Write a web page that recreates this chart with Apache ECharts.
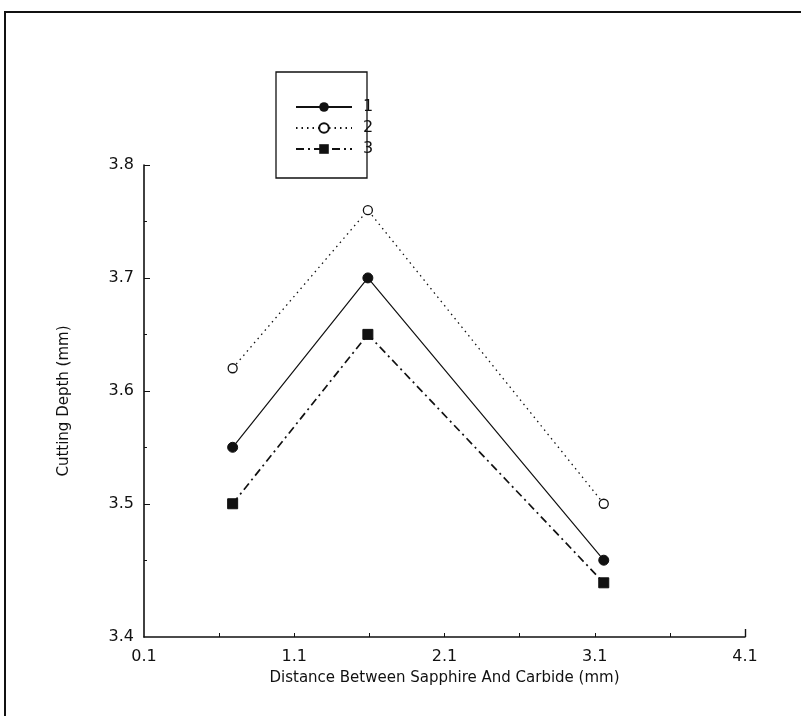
<!DOCTYPE html>
<html>
<head>
<meta charset="utf-8">
<script src="https://cdn.jsdelivr.net/npm/echarts@6/dist/echarts.min.js"></script>
<style>
  html, body { margin: 0; padding: 0; background: #fff; }
  #chart { width: 801px; height: 716px; }
</style>
</head>
<body>
<div id="chart"></div>
<script>
// Measured spacing between sapphire and carbide (mm)
const distances = [0.69, 1.59, 3.16];
// Cutting depth (mm) for each test set
const series1 = [3.55, 3.70, 3.45];
const series2 = [3.62, 3.76, 3.50];
const series3 = [3.50, 3.65, 3.43];
const seriesNames = ['1', '2', '3'];

// Axis ranges and tick positions
const xMin = 0.1, xMax = 4.1;
const xLabelValues = [0.1, 1.1, 2.1, 3.1, 4.1];
const xTickValues = [0.6, 1.1, 1.6, 2.1, 2.6, 3.1, 3.6];
const yMin = 3.382, yMax = 3.8;
const yLabelValues = [3.382, 3.5, 3.6, 3.7, 3.8];
const yMajorTicks = [3.5, 3.6, 3.7];
const yMinorTicks = [3.45, 3.55, 3.65, 3.75];

const FONT = '"DejaVu Sans", sans-serif';
const INK = '#111';

function pairs(ys) { return distances.map((x, i) => [x, ys[i]]); }

const chart = echarts.init(document.getElementById('chart'), null, { renderer: 'canvas' });

chart.setOption({
  backgroundColor: '#fff',
  animation: false,
  grid: { left: 144, right: 56, top: 165, bottom: 79, containLabel: false },
  xAxis: [{
    type: 'value', min: xMin, max: xMax,
    name: 'Distance Between Sapphire And Carbide (mm)',
    nameLocation: 'middle', nameGap: 34,
    nameTextStyle: { fontFamily: FONT, fontSize: 15, color: INK },
    axisLine: { show: true, onZero: false, lineStyle: { color: INK, width: 1.6 } },
    axisTick: { show: true, inside: true, length: 4, customValues: xTickValues, lineStyle: { color: INK } },
    axisLabel: { customValues: xLabelValues, margin: 12, fontFamily: FONT, fontSize: 16, color: INK,
                 formatter: v => v.toFixed(1) },
    splitLine: { show: false }
  }, {
    // end tick at the right of the x axis
    type: 'value', min: xMin, max: xMax, position: 'bottom',
    axisLine: { show: false },
    axisTick: { show: true, inside: true, length: 8, customValues: [4.1], lineStyle: { color: INK, width: 1.4 } },
    axisLabel: { show: false }, splitLine: { show: false }
  }],
  yAxis: [{
    type: 'value', min: yMin, max: yMax,
    name: 'Cutting Depth (mm)',
    nameLocation: 'middle', nameGap: 72, nameRotate: 90,
    nameTextStyle: { fontFamily: FONT, fontSize: 15, color: INK },
    axisLine: { show: true, onZero: false, lineStyle: { color: INK, width: 1.6 } },
    axisTick: { show: true, inside: true, length: 6, customValues: yMajorTicks.concat([3.8]), lineStyle: { color: INK } },
    axisLabel: { customValues: yLabelValues, margin: 10, fontFamily: FONT, fontSize: 16, color: INK,
                 formatter: v => (Math.max(v, 3.4)).toFixed(1) },
    splitLine: { show: false }
  }, {
    type: 'value', min: yMin, max: yMax, position: 'left',
    axisLine: { show: false },
    axisTick: { show: true, inside: true, length: 3, customValues: yMinorTicks, lineStyle: { color: INK } },
    axisLabel: { show: false }, splitLine: { show: false }
  }],
  legend: {
    data: seriesNames,
    orient: 'vertical', left: 290, top: 93,
    itemWidth: 56, itemHeight: 12, itemGap: 3,
    textStyle: { fontFamily: FONT, fontSize: 16, lineHeight: 18, color: INK, padding: [0, 0, 0, 6] },
    inactiveColor: INK
  },
  series: [{
    name: seriesNames[0], type: 'line', data: pairs(series1),
    symbol: 'circle', symbolSize: 10,
    itemStyle: { color: INK, borderColor: INK },
    lineStyle: { color: INK, width: 1.2, type: 'solid' }
  }, {
    name: seriesNames[1], type: 'line', data: pairs(series2),
    symbol: 'circle', symbolSize: 9,
    itemStyle: { color: '#fff', borderColor: INK, borderWidth: 1.3 },
    lineStyle: { color: INK, width: 1.3, type: [1.5, 4] }
  }, {
    name: seriesNames[2], type: 'line', data: pairs(series3),
    symbol: 'rect', symbolSize: 10,
    itemStyle: { color: INK, borderColor: INK },
    lineStyle: { color: INK, width: 1.7, type: [8, 4, 2, 4] }
  }],
  graphic: [
    // outer frame (top and left edges)
    { type: 'polyline', silent: true,
      shape: { points: [[5, 716], [5, 12], [801, 12]] },
      style: { stroke: INK, lineWidth: 2, fill: null } },
    // legend box
    { type: 'rect', silent: true,
      shape: { x: 276, y: 72, width: 91, height: 106 },
      style: { stroke: INK, lineWidth: 1.3, fill: null } }
  ]
});
</script>
</body>
</html>
